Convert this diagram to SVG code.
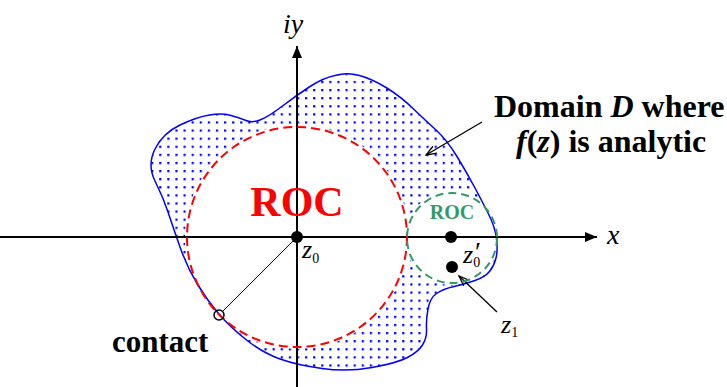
<svg xmlns="http://www.w3.org/2000/svg" width="727" height="387" viewBox="0 0 727 387">
<style>
.axis{stroke:#000;stroke-width:2;fill:none}
.ptr{stroke:#000;stroke-width:1.3;fill:none}
.dot{fill:#000}
</style>
<defs>
<pattern id="dots" width="8.1" height="8.1" patternUnits="userSpaceOnUse" x="5.3" y="8">
<rect x="0" y="0" width="2.2" height="2.2" fill="#0000ff"/>
</pattern>
<path id="dom" d="M155,181 Q147,165 155,149 Q163,133 180,125 Q197,117 209.5,115 Q222,113 231,115.5 Q240,118 246,120.5 Q252,123 260,120 Q268,117 282.5,106 Q297,95 310,86.5 Q323,78 335,75.5 Q347,72 359.5,75.5 Q372,79 386,87.5 Q400,96 412.5,108 Q425,120 436,130 Q447,140 457,156.5 Q467,173 475,188 Q483,203 489,215 Q495,227 496.5,238.5 Q498,250 496,258 Q494,266 489.5,271.5 Q485,277 475,280.5 Q465,284 454,286.5 Q443,289 436.5,293.5 Q430,298 428,309 Q426,320 426.5,329 Q427,338 422.5,345 Q418,352 407.5,357.5 Q397,363 372,367.5 Q347,372 322,368.5 Q297,365 280,359 Q263,353 246.5,340 Q230,327 218.5,313.5 Q207,300 197,283.5 Q187,267 180,247 Q173,227 168,212 Q163,197 155,181 Z"/>
<mask id="holes" maskUnits="userSpaceOnUse" x="0" y="0" width="727" height="387">
<use href="#dom" fill="#fff"/>
<circle cx="297" cy="237" r="112" fill="#000"/>
<circle cx="452" cy="238" r="47" fill="#000"/>
</mask>
<marker id="ah" markerUnits="userSpaceOnUse" markerWidth="13" markerHeight="11" refX="12" refY="5" orient="auto" viewBox="0 0 13 11">
<path d="M0,0 L12,5 L0,10 Z" fill="#000"/>
</marker>
<marker id="oa" markerUnits="userSpaceOnUse" markerWidth="12" markerHeight="10" refX="10.5" refY="4.5" orient="auto" viewBox="0 0 12 10">
<path d="M0,0.5 L10.5,4.5 L0,8.5" fill="none" stroke="#000" stroke-width="1.3"/>
</marker>
</defs>

<g id="domain">
<rect x="0" y="0" width="727" height="387" fill="url(#dots)" mask="url(#holes)"/>
<use href="#dom" fill="none" stroke="#0000ff" stroke-width="1.5"/>
</g>

<g id="connectors">
<line class="axis" x1="0" y1="237" x2="597" y2="237" marker-end="url(#ah)"/>
<line class="axis" x1="297" y1="387" x2="297" y2="46" marker-end="url(#ah)"/>
<line x1="297" y1="237" x2="222" y2="312" stroke="#000" stroke-width="1"/>
<line class="ptr" x1="482" y1="122" x2="426" y2="155" marker-end="url(#oa)"/>
<line class="ptr" x1="497" y1="312" x2="459" y2="276" marker-end="url(#oa)"/>
</g>

<g id="roc" font-family="'Liberation Serif', 'Times New Roman', serif">
<circle cx="297" cy="237" r="110" fill="none" stroke="#ff0000" stroke-width="2" stroke-dasharray="9,5"/>
<text x="297" y="216" font-weight="bold" font-size="42" text-anchor="middle" fill="#ff0000">ROC</text>
</g>

<g id="roc-small" font-family="'Liberation Serif', 'Times New Roman', serif">
<circle cx="452" cy="238" r="45" fill="none" stroke="#339966" stroke-width="2" stroke-dasharray="8,5"/>
<text x="452" y="219" font-weight="bold" font-size="20" text-anchor="middle" fill="#339966">ROC</text>
</g>

<g id="z0" font-family="'Liberation Serif', 'Times New Roman', serif">
<circle class="dot" cx="297" cy="237" r="6"/>
<text x="302" y="258" font-style="italic" font-size="26">z<tspan font-size="14" font-style="normal" dy="5">0</tspan></text>
</g>

<g id="z0prime" font-family="'Liberation Serif', 'Times New Roman', serif">
<circle class="dot" cx="451" cy="237" r="6"/>
<circle class="dot" cx="452" cy="267" r="6"/>
<text x="463" y="263" font-style="italic" font-size="26">z<tspan font-size="14" font-style="normal" dy="4">0</tspan><tspan font-size="28" dx="-7" dy="-6">′</tspan></text>
</g>

<g id="z1" font-family="'Liberation Serif', 'Times New Roman', serif">
<text x="501" y="333" font-style="italic" font-size="26">z<tspan font-size="14" font-style="normal" dy="4">1</tspan></text>
</g>

<g id="contact" font-family="'Liberation Serif', 'Times New Roman', serif">
<circle cx="219" cy="315" r="5" fill="none" stroke="#000" stroke-width="1.5"/>
<text x="112" y="352" font-weight="bold" font-size="31">contact</text>
</g>

<g id="domain-label" font-family="'Liberation Serif', 'Times New Roman', serif" font-weight="bold" font-size="32">
<text x="494" y="117">Domain <tspan font-style="italic">D</tspan> where</text>
<text x="516" y="152"><tspan font-style="italic">f</tspan>(<tspan font-style="italic">z</tspan>) is analytic</text>
</g>

<g id="axis-labels" font-family="'Liberation Serif', 'Times New Roman', serif" font-style="italic" font-size="28">
<text x="283" y="33">iy</text>
<text x="607" y="244">x</text>
</g>
</svg>
